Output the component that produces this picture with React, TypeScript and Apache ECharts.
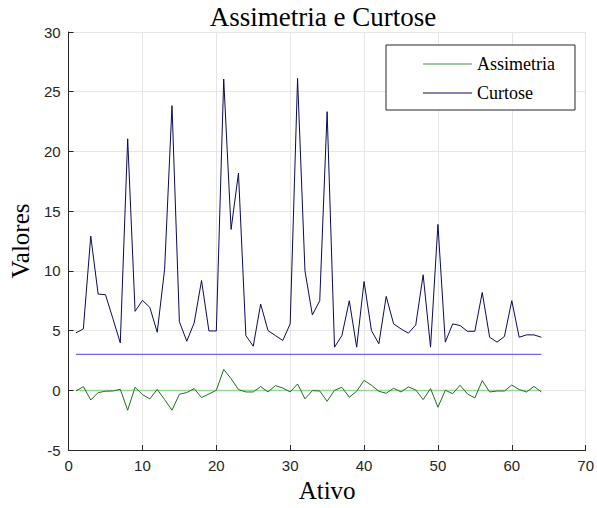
import React, { useEffect, useRef } from "react";
import * as echarts from "echarts";

const ativos: number[] = Array.from({ length: 64 }, (_, i) => i + 1);

const assimetria: number[] = [
  -0.06, 0.31, -0.81, -0.19, -0.08, -0.06, 0.08, -1.67, 0.25, -0.36,
  -0.72, 0.08, -0.78, -1.67, -0.33, -0.19, 0.14, -0.61, -0.31, 0.0,
  1.75, 0.97, 0.06, -0.14, -0.14, 0.31, -0.14, 0.39, 0.19, -0.14,
  0.53, -0.72, -0.03, -0.06, -0.92, 0.0, 0.25, -0.58, -0.08, 0.83,
  0.42, -0.08, -0.25, 0.17, -0.14, 0.28, 0.03, -0.78, 0.14, -1.42,
  0.0, -0.28, 0.42, -0.31, -0.64, 0.81, -0.14, -0.06, -0.06, 0.44,
  0.06, -0.14, 0.33, -0.14,
];

const curtose: number[] = [
  4.81, 5.14, 12.92, 8.06, 8.0, 6.0, 3.97, 21.06, 6.61, 7.53,
  6.94, 4.86, 10.14, 23.83, 5.75, 4.11, 5.64, 9.19, 4.97, 4.97,
  26.06, 13.47, 18.19, 4.58, 3.69, 7.22, 5.0, 4.58, 4.17, 5.56,
  26.11, 10.0, 6.31, 7.5, 23.33, 3.61, 4.58, 7.5, 3.61, 9.11,
  5.0, 3.89, 7.86, 5.56, 5.14, 4.78, 5.47, 9.67, 3.61, 13.89,
  4.03, 5.56, 5.42, 4.94, 4.94, 8.19, 4.44, 4.03, 4.5, 7.5,
  4.44, 4.64, 4.64, 4.44,
];

const refAssimetria = 0;
const refCurtose = 3;

const xTicks = { min: 0, max: 70, interval: 10 };
const yTicks = { min: -5, max: 30, interval: 5 };

const lineIcon = "path://M0,0L49,0L49,1L0,1Z";

export default function App() {
  const ref = useRef<HTMLDivElement>(null);

  useEffect(() => {
    document.body.style.margin = "0";
    if (!ref.current) return;
    const chart = echarts.init(ref.current, undefined, { renderer: "svg" });
    const first = ativos[0];
    const last = ativos[ativos.length - 1];
    const axisText = {
      color: "#262626",
      fontFamily: "Liberation Sans",
      fontSize: 15,
    };
    chart.setOption({
      animation: false,
      backgroundColor: "#ffffff",
      title: {
        text: "Assimetria e Curtose",
        left: 323,
        textAlign: "center",
        top: 3,
        padding: 0,
        textStyle: {
          fontFamily: "Liberation Serif",
          fontWeight: "normal",
          fontSize: 27,
          color: "#000000",
        },
      },
      legend: {
        orient: "vertical",
        left: 386,
        top: 45,
        data: [
          { name: "Assimetria", icon: lineIcon },
          { name: "Curtose", icon: lineIcon },
        ],
        itemWidth: 49,
        itemHeight: 18,
        itemGap: 11,
        padding: [10, 20, 8, 37],
        borderColor: "#262626",
        borderWidth: 1,
        backgroundColor: "#ffffff",
        textStyle: {
          fontFamily: "Liberation Serif",
          fontSize: 18,
          color: "#000000",
        },
      },
      grid: { left: 59, right: 7, top: 32, bottom: 56, containLabel: false },
      xAxis: {
        type: "value",
        min: xTicks.min,
        max: xTicks.max,
        interval: xTicks.interval,
        name: "Ativo",
        nameLocation: "middle",
        nameGap: 28,
        nameTextStyle: {
          fontFamily: "Liberation Serif",
          fontSize: 25,
          color: "#000000",
        },
        axisLine: { show: true, onZero: false, lineStyle: { color: "#262626", width: 1 } },
        axisTick: { show: true, inside: true, length: 5, lineStyle: { color: "#262626" } },
        axisLabel: { ...axisText, margin: 8 },
        splitLine: { show: true, lineStyle: { color: "#e6e6e6", width: 1 } },
      },
      yAxis: {
        type: "value",
        min: yTicks.min,
        max: yTicks.max,
        interval: yTicks.interval,
        name: "Valores",
        nameLocation: "middle",
        nameGap: 29,
        nameTextStyle: {
          fontFamily: "Liberation Serif",
          fontSize: 25,
          color: "#000000",
        },
        axisLine: { show: true, onZero: false, lineStyle: { color: "#262626", width: 1 } },
        axisTick: { show: true, inside: true, length: 5, lineStyle: { color: "#262626" } },
        axisLabel: { ...axisText, margin: 8 },
        splitLine: { show: true, lineStyle: { color: "#e6e6e6", width: 1 } },
      },
      series: [
        {
          name: "Assimetria",
          type: "line",
          data: ativos.map((a, i) => [a, assimetria[i]]),
          symbol: "none",
          showSymbol: false,
          color: "#4a8f4a",
          lineStyle: { color: "#1e6e1e", width: 1 },
          z: 3,
        },
        {
          name: "Curtose",
          type: "line",
          data: ativos.map((a, i) => [a, curtose[i]]),
          symbol: "none",
          showSymbol: false,
          color: "#0a0a5a",
          lineStyle: { color: "#0a0a5a", width: 1 },
          z: 3,
        },
        {
          name: "refAssimetria",
          type: "line",
          data: [
            [first, refAssimetria],
            [last, refAssimetria],
          ],
          symbol: "none",
          lineStyle: { color: "#8de08d", width: 1.2 },
          z: 2,
        },
        {
          name: "refCurtose",
          type: "line",
          data: [
            [first, refCurtose],
            [last, refCurtose],
          ],
          symbol: "none",
          lineStyle: { color: "#6a6ae6", width: 1.2 },
          z: 2,
        },
      ],
    });
    return () => chart.dispose();
  }, []);

  return <div ref={ref} style={{ width: 597, height: 508 }} />;
}
